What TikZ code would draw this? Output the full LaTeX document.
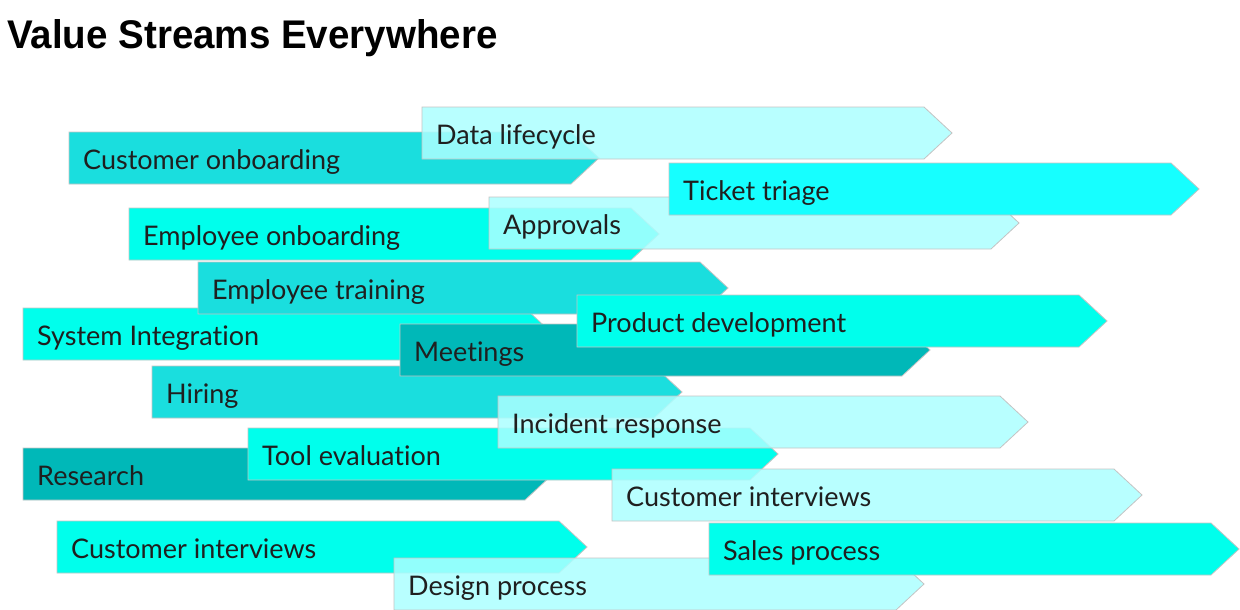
\documentclass[tikz,border=0pt]{standalone}
\usepackage{fontspec}
\setmainfont[Ligatures={NoCommon,NoRare,NoContextual}]{Lato}
\newfontfamily\titlefont[FakeStretch=0.963]{Liberation Sans}
\definecolor{midteal}{RGB}{26,222,222}
\definecolor{brightA}{RGB}{0,255,236}
\definecolor{brightB}{RGB}{22,255,255}
\definecolor{darkteal}{RGB}{0,184,184}
\definecolor{lightcyan}{RGB}{172,255,255}
\definecolor{edgegray}{RGB}{196,196,196}
\tikzset{
  streambase/.style={draw=edgegray, line width=0.8pt, line join=miter},
  mid/.style={streambase, fill=midteal},
  bright/.style={streambase, fill=brightA},
  brightb/.style={streambase, fill=brightB},
  dark/.style={streambase, fill=darkteal},
  light/.style={streambase, fill=lightcyan, fill opacity=0.85},
  lbl/.style={font=\fontsize{27}{30}\selectfont, text=black!88, inner sep=0pt, anchor=base west},
  ttl/.style={font=\titlefont\bfseries\fontsize{40}{44}\selectfont, inner sep=0pt, anchor=base west}
}
% #1 name, #2 left x, #3 top y, #4 style, #5 text
\newcommand\vstream[5]{%
  \draw[#4] (#2,#3) -- ++(502,0) -- ++(28,26) -- ++(-28,26) -- ++(-502,0) -- cycle;
  \node[lbl] (#1) at (#2+14,#3+37) {#5};
}
\begin{document}
\begin{tikzpicture}[x=1pt,y=-1pt]
\useasboundingbox[fill=white] (0,0) rectangle (1240,610);
\node[ttl] (title) at (7,49) {Value Streams Everywhere};
\vstream{custon}{69}{132}{mid}{Customer onboarding}
\vstream{datalc}{422}{107}{light}{Data lifecycle}
\vstream{empon}{129}{208}{bright}{Employee onboarding}
\vstream{appr}{489}{197}{light}{Approvals}
\vstream{ticket}{669}{163}{brightb}{Ticket triage}
\vstream{sysint}{23}{308}{bright}{System Integration}
\vstream{emptr}{198}{262}{mid}{Employee training}
\vstream{hiring}{152}{366}{mid}{Hiring}
\vstream{meet}{400}{324}{dark}{Meetings}
\vstream{proddev}{577}{295}{bright}{Product development}
\vstream{research}{23}{448}{dark}{Research}
\vstream{tooleval}{248}{428}{bright}{Tool evaluation}
\vstream{incident}{498}{396}{light}{Incident response}
\vstream{custintr}{612}{469}{light}{Customer interviews}
\vstream{custintl}{57}{521}{bright}{Customer interviews}
\vstream{design}{394}{558}{light}{Design process}
\vstream{sales}{709}{523}{bright}{Sales process}
\end{tikzpicture}
\end{document}
